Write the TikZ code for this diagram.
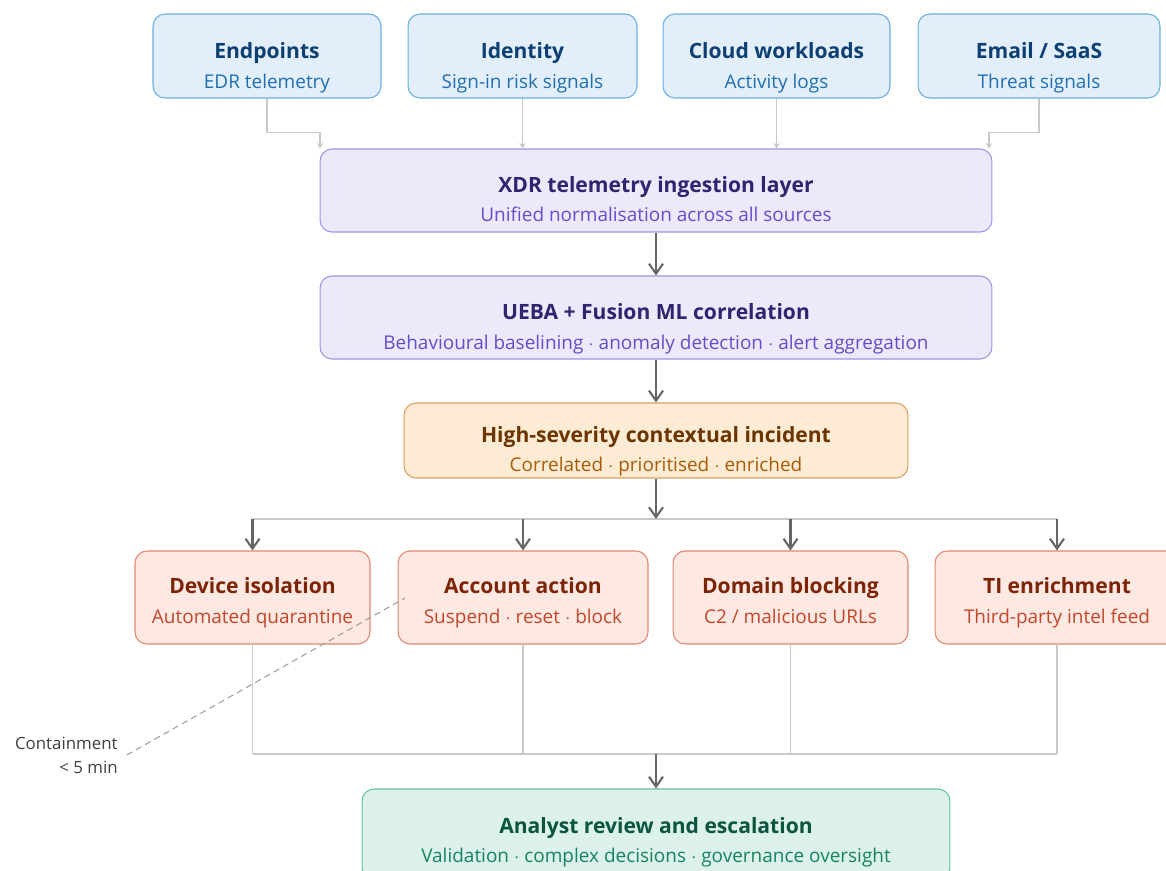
\documentclass[tikz,border=0pt]{standalone}
\usepackage{fontspec}
\setmainfont{Open Sans}
\usetikzlibrary{arrows.meta}

\definecolor{srcfill}{HTML}{E2EFFA}
\definecolor{srcline}{HTML}{6AAEE0}
\definecolor{srcttl}{HTML}{0E3F73}
\definecolor{srcsub}{HTML}{1F6FB2}
\definecolor{layfill}{HTML}{ECEAFA}
\definecolor{layline}{HTML}{A092E6}
\definecolor{layttl}{HTML}{2E2470}
\definecolor{laysub}{HTML}{5E4FCB}
\definecolor{incfill}{HTML}{FDEBD3}
\definecolor{incline}{HTML}{D8A25E}
\definecolor{incttl}{HTML}{6A3500}
\definecolor{incsub}{HTML}{A65C08}
\definecolor{actfill}{HTML}{FDE8E2}
\definecolor{actline}{HTML}{E0866E}
\definecolor{actttl}{HTML}{7C2408}
\definecolor{actsub}{HTML}{C2462A}
\definecolor{anafill}{HTML}{DCF1EA}
\definecolor{analine}{HTML}{5DBFA0}
\definecolor{anattl}{HTML}{0B5540}
\definecolor{anasub}{HTML}{158560}
\definecolor{feedgray}{HTML}{C9C9C9}
\definecolor{flowgray}{HTML}{666666}

\newcommand\hd{\fontsize{12}{16.8}\selectfont\bfseries}

\begin{document}
\begin{tikzpicture}[x=0.02cm, y=-0.02cm,
  box/.style={draw, rounded corners=0.24cm, line width=0.6pt, inner sep=0pt},
  srcbox/.style={box, fill=srcfill, draw=srcline, minimum height=1.68cm},
  laybox/.style={box, fill=layfill, draw=layline, minimum width=13.44cm, minimum height=1.66cm},
  incbox/.style={box, fill=incfill, draw=incline, minimum width=10.08cm, minimum height=1.5cm},
  actbox/.style={box, fill=actfill, draw=actline, minimum height=1.86cm},
  anabox/.style={box, fill=anafill, draw=analine, minimum width=11.76cm, minimum height=1.82cm},
  txt/.style={align=center, inner sep=0pt, font=\fontsize{10.8}{16.8}\selectfont,
    execute at begin node=\strut, execute at end node=\strut},
  feedline/.style={draw=feedgray, line width=0.6pt, -{Stealth[length=1.1mm,width=1.3mm]}},
  linkline/.style={draw=feedgray, line width=0.6pt},
  flowline/.style={draw=flowgray, line width=1.2pt, -{Straight Barb[length=2mm,width=2.8mm]}},
  hintline/.style={draw=gray!75, line width=0.6pt, dash pattern=on 3.6pt off 2.4pt}]
\useasboundingbox (0,0) rectangle (1166,870);

% telemetry sources
\node[srcbox, minimum width=4.56cm] (ep) at (267,56) {};
\node[srcbox, minimum width=4.58cm] (id) at (522.5,56) {};
\node[srcbox, minimum width=4.54cm] (cw) at (776.5,56) {};
\node[srcbox, minimum width=4.84cm] (em) at (1039,56) {};
\node[txt, text=srcsub] (ep-t) at (267,70) {{\hd\color{srcttl}Endpoints}\\EDR telemetry};
\node[txt, text=srcsub] (id-t) at (522.5,70) {{\hd\color{srcttl}Identity}\\Sign-in risk signals};
\node[txt, text=srcsub] (cw-t) at (776.5,70) {{\hd\color{srcttl}Cloud workloads}\\Activity logs};
\node[txt, text=srcsub] (em-t) at (1039,70) {{\hd\color{srcttl}Email / SaaS}\\Threat signals};

% ingestion and correlation
\node[laybox] (xdr) at (656,190.5) {};
\node[txt, text=laysub] (xdr-t) at (656,203.5) {{\hd\color{layttl}XDR telemetry ingestion layer}\\Unified normalisation across all sources};
\node[laybox] (ueba) at (656,317.5) {};
\node[txt, text=laysub] (ueba-t) at (656,331) {{\hd\color{layttl}UEBA + Fusion ML correlation}\\Behavioural baselining $\cdot$ anomaly detection $\cdot$ alert aggregation};

\node[incbox] (inc) at (656,440.5) {};
\node[txt, text=incsub] (inc-t) at (656,453.5) {{\hd\color{incttl}High-severity contextual incident}\\Correlated $\cdot$ prioritised $\cdot$ enriched};

% automated response
\node[actbox, minimum width=4.7cm] (dev) at (252.5,597.5) {};
\node[actbox, minimum width=5.0cm] (acc) at (523,597.5) {};
\node[actbox, minimum width=4.7cm] (dom) at (790.5,597.5) {};
\node[actbox, minimum width=4.88cm] (ti) at (1057,597.5) {};
\node[txt, text=actsub] (dev-t) at (252.5,605) {{\hd\color{actttl}Device isolation}\\Automated quarantine};
\node[txt, text=actsub] (acc-t) at (523,605) {{\hd\color{actttl}Account action}\\Suspend $\cdot$ reset $\cdot$ block};
\node[txt, text=actsub] (dom-t) at (790.5,605) {{\hd\color{actttl}Domain blocking}\\C2 / malicious URLs};
\node[txt, text=actsub] (ti-t) at (1057,605) {{\hd\color{actttl}TI enrichment}\\Third-party intel feed};

\node[anabox] (ana) at (656,834.5) {};
\node[txt, text=anasub] (ana-t) at (656,844.5) {{\hd\color{anattl}Analyst review and escalation}\\Validation $\cdot$ complex decisions $\cdot$ governance oversight};

\node[align=right, anchor=east, inner sep=0pt, text=black!75, font=\fontsize{9.6}{13.6}\selectfont] (ctm) at (118,755) {Containment\\< 5 min};
\coordinate (ctm-end) at (405,598);

% connectors
\draw[feedline] (ep.south) -- ++(0,34) -| (xdr.north -| 320,0);
\draw[feedline] (id.south) -- (id.south |- xdr.north);
\draw[feedline] (cw.south) -- (cw.south |- xdr.north);
\draw[feedline] (em.south) -- ++(0,34) -| (xdr.north -| 989,0);
\draw[flowline] (xdr) -- (ueba);
\draw[flowline] (ueba) -- (inc);

\coordinate (fork) at (656,519);
\coordinate (merge) at (656,754);
\draw[linkline] (dev.north |- fork) -- (ti.north |- fork);
\draw[flowline] (inc) -- (fork);
\foreach \n in {dev,acc,dom,ti}
  \draw[flowline] (\n.north |- fork) -- (\n.north);
\foreach \n in {dev,acc,dom,ti}
  \draw[linkline] (\n.south) -- (\n.south |- merge);
\draw[linkline] (dev.south |- merge) -- (ti.south |- merge);
\draw[flowline] (merge) -- (ana);

\draw[hintline] ([xshift=5pt]ctm.east) -- (ctm-end);
\end{tikzpicture}
\end{document}
